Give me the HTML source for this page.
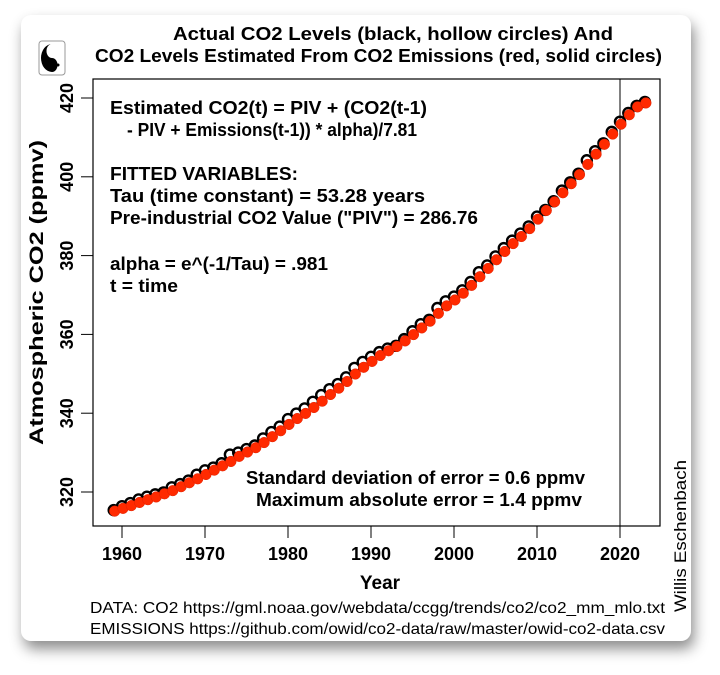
<!DOCTYPE html>
<html><head><meta charset="utf-8"><style>
body{margin:0;background:#fff;width:720px;height:675px;overflow:hidden;font-family:"Liberation Sans",Arial,sans-serif}
#card{position:absolute;left:21px;top:15px;width:670px;height:626px;background:#fff;border-radius:10px;box-shadow:3px 8px 14px rgba(0,0,0,0.45)}
</style></head><body>
<div id="card"></div>
<svg id="chart" width="720" height="675" style="position:absolute;left:0;top:0" font-family="Liberation Sans, Arial, sans-serif">
<g>
<rect x="39" y="41" width="26" height="34" rx="3" fill="#fff" stroke="#999" stroke-width="1"/>
<path d="M52 44 a11 14 0 0 0 0 28 a5.5 7 0 0 0 0 -14 a5.5 7 0 0 1 0 -14z" fill="#000"/>
<circle cx="58" cy="65" r="1.5" fill="#000"/>
</g>
<text x="173" y="40" textLength="440" lengthAdjust="spacingAndGlyphs" font-weight="bold" font-size="18">Actual CO2 Levels (black, hollow circles) And</text>
<text x="95" y="62" textLength="567" lengthAdjust="spacingAndGlyphs" font-weight="bold" font-size="18">CO2 Levels Estimated From CO2 Emissions (red, solid circles)</text>
<rect x="93" y="79" width="567" height="447" fill="none" stroke="#000" stroke-width="1.2"/>
<g id="axes"></g>
<g id="marks"></g>
<g font-weight="bold" font-size="18">
<text x="110" y="114" textLength="317" lengthAdjust="spacingAndGlyphs">Estimated CO2(t) = PIV + (CO2(t-1)</text>
<text x="127" y="136" textLength="290" lengthAdjust="spacingAndGlyphs">- PIV + Emissions(t-1)) * alpha)/7.81</text>
<text x="110" y="180" textLength="188" lengthAdjust="spacingAndGlyphs">FITTED VARIABLES:</text>
<text x="110" y="202" textLength="315" lengthAdjust="spacingAndGlyphs">Tau (time constant) = 53.28 years</text>
<text x="110" y="224" textLength="368" lengthAdjust="spacingAndGlyphs">Pre-industrial CO2 Value ("PIV") = 286.76</text>
<text x="110" y="270" textLength="218" lengthAdjust="spacingAndGlyphs">alpha = e^(-1/Tau) = .981</text>
<text x="110" y="292" textLength="68" lengthAdjust="spacingAndGlyphs">t = time</text>
<text x="246" y="484" textLength="339" lengthAdjust="spacingAndGlyphs">Standard deviation of error = 0.6 ppmv</text>
<text x="256" y="506" textLength="326" lengthAdjust="spacingAndGlyphs">Maximum absolute error = 1.4 ppmv</text>
</g>
<text x="380" y="589" text-anchor="middle" font-weight="bold" font-size="19">Year</text>
<text transform="translate(43,445) rotate(-90)" textLength="305" lengthAdjust="spacingAndGlyphs" font-weight="bold" font-size="19">Atmospheric CO2 (ppmv)</text>
<text x="90" y="613" textLength="575" lengthAdjust="spacingAndGlyphs" font-size="16">DATA: CO2 https://gml.noaa.gov/webdata/ccgg/trends/co2/co2_mm_mlo.txt</text>
<text x="90" y="634" textLength="575" lengthAdjust="spacingAndGlyphs" font-size="16">EMISSIONS https://github.com/owid/co2-data/raw/master/owid-co2-data.csv</text>
<text transform="translate(686,612) rotate(-90)" textLength="152" lengthAdjust="spacingAndGlyphs" font-size="17">Willis Eschenbach</text>
</svg>
<script>
const years=[1959,1960,1961,1962,1963,1964,1965,1966,1967,1968,1969,1970,1971,1972,1973,1974,1975,1976,1977,1978,1979,1980,1981,1982,1983,1984,1985,1986,1987,1988,1989,1990,1991,1992,1993,1994,1995,1996,1997,1998,1999,2000,2001,2002,2003,2004,2005,2006,2007,2008,2009,2010,2011,2012,2013,2014,2015,2016,2017,2018,2019,2020,2021,2022,2023];
const actualCO2=[315.4,316.4,317.2,318.1,318.8,319.4,319.9,321.2,322.0,322.9,324.4,325.5,326.2,327.3,329.5,330.0,330.9,331.8,333.6,335.2,336.6,338.5,339.9,341.2,342.9,344.6,346.1,347.4,349.1,351.5,353.0,354.3,355.5,356.4,357.1,358.8,360.8,362.6,363.7,366.7,368.4,369.6,371.2,373.3,375.8,377.5,379.8,381.9,383.8,385.6,387.4,389.9,391.6,393.8,396.5,398.6,400.8,404.2,406.5,408.5,411.4,414.0,416.2,418.0,419.0];
const estimatedCO2=[315.4,316.1,316.8,317.6,318.3,319.0,319.8,320.6,321.6,322.6,323.6,324.7,325.8,326.9,328.0,329.3,330.4,331.5,332.8,334.3,335.8,337.4,338.9,340.2,341.7,343.3,345.0,346.6,348.3,350.2,351.9,353.4,354.9,356.1,357.2,358.6,360.2,361.9,363.6,365.6,367.5,369.0,370.7,372.7,374.9,377.0,379.2,381.3,383.3,385.1,387.1,389.5,391.7,393.9,396.2,398.5,400.8,403.4,406.0,408.5,411.1,413.6,416.0,418.0,419.0];
const xTicks=[1960,1970,1980,1990,2000,2010,2020];
const yTicks=[320,340,360,380,400,420];
const NS='http://www.w3.org/2000/svg';
function xs(v){return 122+(v-1960)*8.3;}
function ys(v){return 492-(v-320)*3.94;}
function mk(tag,attrs,parent){const e=document.createElementNS(NS,tag);for(const k in attrs)e.setAttribute(k,attrs[k]);parent.appendChild(e);return e;}
const axes=document.getElementById('axes'),marks=document.getElementById('marks');
xTicks.forEach(t=>{
 const l=mk('line',{x1:xs(t),x2:xs(t),y1:526,y2:538,stroke:'#000'},axes);
 
 
 const tx=mk('text',{x:xs(t),y:560,'text-anchor':'middle','font-weight':'bold','font-size':'18'},axes);
 
 
 tx.textContent=t;
});
yTicks.forEach(t=>{
 const l=mk('line',{x1:81,x2:93,y1:ys(t),y2:ys(t),stroke:'#000'},axes);
 
 
 const tx=mk('text',{transform:'translate(73,'+ys(t)+') rotate(-90)','text-anchor':'middle','font-weight':'bold','font-size':'18'},axes);
 
 
 tx.textContent=t;
});
const vl=mk('line',{x1:xs(2020),x2:xs(2020),y1:79,y2:526,stroke:'#000','stroke-width':1},axes);


years.forEach((y,i)=>{
 const c=mk('circle',{cx:xs(y),cy:ys(actualCO2[i]),r:5,fill:'none',stroke:'#000','stroke-width':2.4},marks);
 
 
});
years.forEach((y,i)=>{
 const c=mk('circle',{cx:xs(y)+1,cy:ys(estimatedCO2[i])+1,r:5.3,fill:'#ff2a00',stroke:'#e02000','stroke-width':0.5},marks);
 
 
});
</script>
</body></html>
